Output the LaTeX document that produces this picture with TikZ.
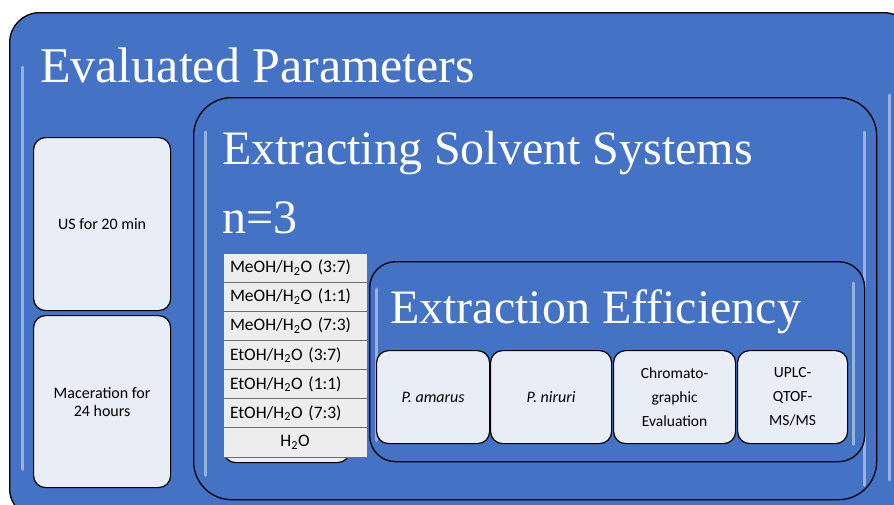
\documentclass[tikz,border=0pt]{standalone}
\usepackage{fontspec}
\usetikzlibrary{positioning}
\setmainfont{Liberation Serif}
\newfontfamily\boxfont{Carlito}
\definecolor{panelblue}{HTML}{4472C4}
\definecolor{cardfill}{HTML}{E9EDF5}
\definecolor{rowfill}{HTML}{EDEDED}
\definecolor{rowline}{HTML}{6E6E6E}

\begin{document}
\begin{tikzpicture}[x=1pt,y=-1pt,
  panel/.style={draw=black,line width=1.3pt,fill=panelblue,anchor=north west,inner sep=0pt},
  card/.style={draw=black,line width=1.2pt,fill=cardfill,rounded corners=12pt,anchor=north west,inner sep=2pt,align=center,font=\boxfont\fontsize{16}{18}\selectfont},
  widecard/.style={card,font=\boxfont\fontsize{15.5}{24}\selectfont},
  title/.style={anchor=base west,inner sep=0pt,text=white,font=\fontsize{48}{50}\selectfont},
  gloss/.style={white,opacity=0.45,line width=3pt,line cap=round},
  row/.style={draw=rowline,line width=0.8pt,fill=rowfill,anchor=north west,minimum width=144pt,minimum height=29.14pt,inner sep=0pt,outer sep=0pt,text width=130pt,font=\boxfont\fontsize{17.5}{18}\selectfont}]
\useasboundingbox (0,0) rectangle (894,504);
\clip (0,0) rectangle (894,504);

% outer panel
\node[panel,rounded corners=30pt,minimum width=904pt,minimum height=506pt] (ev) at (9,12) {};
\draw[gloss] ([xshift=13pt,yshift=-55pt]ev.north west) -- ([xshift=13pt,yshift=50pt]ev.south west);
\draw[gloss] (889,95) -- (889,480);
\node[title,font=\fontsize{50}{52}\selectfont] (evtitle) at (40,82) {Evaluated Parameters};

% left column
\node[card,minimum width=137pt,minimum height=173pt] (us) at (33,137) {US for 20 min};
\node[card,minimum width=137pt,minimum height=172pt] (mac) at (33,315) {Maceration for\\24 hours};

% solvent panel
\node[panel,rounded corners=38pt,minimum width=683pt,minimum height=402pt] (es) at (193,97) {};
\draw[gloss] ([xshift=12pt,yshift=-35pt]es.north west) -- ([xshift=12pt,yshift=25pt]es.south west);
\draw[gloss] ([xshift=-13pt,yshift=-35pt]es.north east) -- ([xshift=-13pt,yshift=15pt]es.south east);
\node[title] (estitle) at (222,164) {Extracting Solvent Systems};
\node[title] (ntitle) at (222,233) {n=3};

% solvent list
\node[draw=black,line width=1.2pt,fill=rowfill,rounded corners=12pt,anchor=north west,minimum width=126pt,minimum height=209pt] (tabback) at (223,253) {};
\node[row] (r1) at (223,253) {MeOH/H\textsubscript{2}O (3:7)};
\node[row,below=0pt of r1] (r2) {MeOH/H\textsubscript{2}O (1:1)};
\node[row,below=0pt of r2] (r3) {MeOH/H\textsubscript{2}O (7:3)};
\node[row,below=0pt of r3] (r4) {EtOH/H\textsubscript{2}O (3:7)};
\node[row,below=0pt of r4] (r5) {EtOH/H\textsubscript{2}O (1:1)};
\node[row,below=0pt of r5] (r6) {EtOH/H\textsubscript{2}O (7:3)};
\node[row,below=0pt of r6,align=center] (r7) {H\textsubscript{2}O};

% efficiency panel
\node[panel,rounded corners=26pt,minimum width=495pt,minimum height=200pt] (ee) at (369,261) {};
\draw[gloss] ([xshift=7pt,yshift=-28pt]ee.north west) -- ([xshift=7pt,yshift=22pt]ee.south west);
\draw[gloss] ([xshift=-12pt,yshift=-22pt]ee.north east) -- ([xshift=-12pt,yshift=18pt]ee.south east);
\node[title] (eetitle) at (390,323) {Extraction Efficiency};

\node[card,minimum width=113pt,minimum height=93pt] (amarus) at (376,350) {\itshape P. amarus};
\node[card,minimum width=121pt,minimum height=93pt] (niruri) at (490,350) {\itshape P. niruri};
\node[widecard,minimum width=122pt,minimum height=93pt] (chrom) at (613,350) {Chromato-\\graphic\\Evaluation};
\node[widecard,minimum width=110pt,minimum height=93pt] (uplc) at (737,350) {UPLC-\\QTOF-\\MS/MS};
\end{tikzpicture}
\end{document}
